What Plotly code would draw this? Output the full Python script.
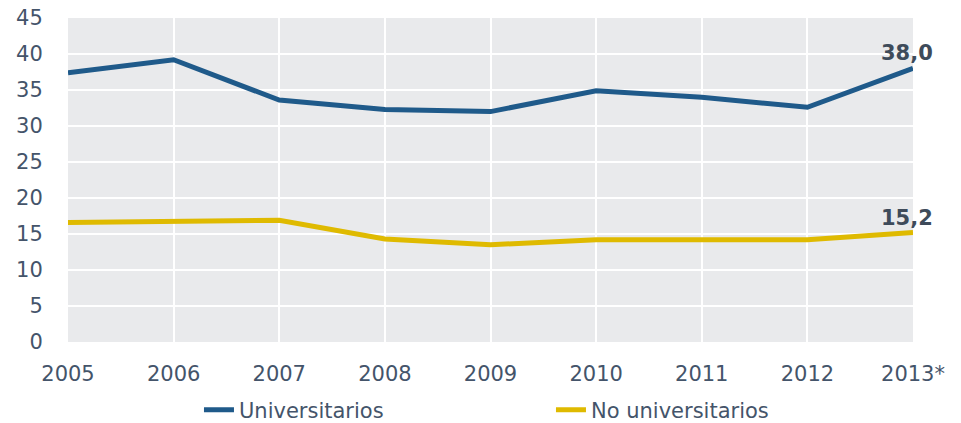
import plotly.graph_objects as go

years = ["2005", "2006", "2007", "2008", "2009", "2010", "2011", "2012", "2013*"]
universitarios = [37.4, 39.2, 33.6, 32.3, 32.0, 34.9, 34.0, 32.6, 38.0]
no_universitarios = [16.6, 16.8, 16.9, 14.3, 13.5, 14.2, 14.2, 14.2, 15.2]
y_ticks = [0, 5, 10, 15, 20, 25, 30, 35, 40, 45]

BLUE = "#1F5A8A"
YELLOW = "#DFBA00"
TEXT = "#44546A"
FONT = "DejaVu Sans"

fig = go.Figure()
fig.add_trace(go.Scatter(x=years, y=universitarios, mode="lines", name="Universitarios",
                         line=dict(color=BLUE, width=5)))
fig.add_trace(go.Scatter(x=years, y=no_universitarios, mode="lines", name="No universitarios",
                         line=dict(color=YELLOW, width=5)))

for series in (universitarios, no_universitarios):
    fig.add_annotation(x=years[-1], y=series[-1], text="<b>" + f"{series[-1]:.1f}".replace(".", ",") + "</b>",
                       showarrow=False, yshift=15, xshift=-6,
                       font=dict(family=FONT, size=21, color="#3E4B5A"))

fig.update_layout(
    width=961, height=423,
    margin=dict(l=68, r=48, t=18, b=81, autoexpand=False),
    paper_bgcolor="white", plot_bgcolor="#E9EAEC",
    font=dict(family=FONT, size=21, color=TEXT),
    showlegend=True,
    legend=dict(orientation="h", x=0.155, xanchor="left", y=-0.21, yanchor="middle",
                entrywidth=307, font=dict(family=FONT, size=21, color=TEXT),
                bgcolor="rgba(0,0,0,0)"),
    hovermode=False,
)
fig.update_xaxes(type="category", range=[0, 8], showgrid=True, gridcolor="white", gridwidth=2,
                 zeroline=False, showline=False, ticks="outside", ticklen=13, tickcolor="rgba(0,0,0,0)",
                 automargin=False, tickfont=dict(family=FONT, size=21, color=TEXT))
fig.update_yaxes(range=[0, 45], tickvals=y_ticks, showgrid=True, gridcolor="white", gridwidth=2,
                 zeroline=False, showline=False, ticks="outside", ticklen=20, tickcolor="rgba(0,0,0,0)",
                 automargin=False, tickfont=dict(family=FONT, size=21, color=TEXT))

fig.write_html("out.html", config={"displayModeBar": False},
               post_script="document.body.style.margin='0';document.body.style.overflow='hidden';")
